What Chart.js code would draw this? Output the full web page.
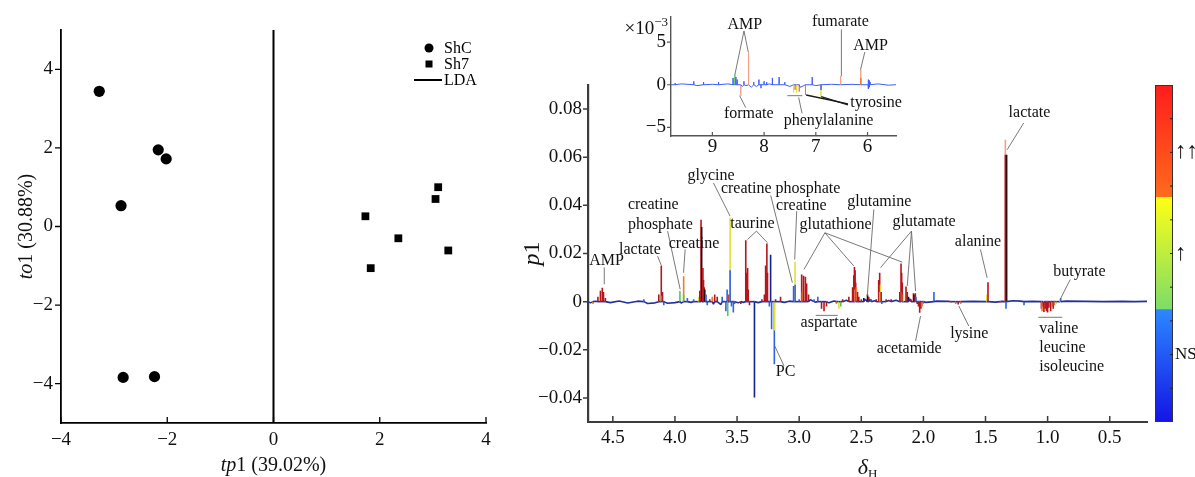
<!DOCTYPE html>
<html>
<head>
<meta charset="utf-8">
<title>OPLS-DA scores and loadings</title>
<script src="https://cdn.jsdelivr.net/npm/chart.js@4.4.1/dist/chart.umd.min.js"></script>
<style>
  html, body { margin: 0; padding: 0; background: #fff; }
  #page { position: relative; width: 1195px; height: 477px; overflow: hidden; }
  #page > div { position: absolute; top: 0; }
  canvas { display: block; }
</style>
</head>
<body>
<div id="page">
  <div style="left:0"><canvas id="scores" width="500" height="477"></canvas></div>
  <div style="left:500px"><canvas id="loadings" width="650" height="477"></canvas></div>
  <div style="left:620px"><canvas id="inset" width="285" height="160"></canvas></div>
  <div style="left:1150px"><canvas id="colourbar" width="45" height="477"></canvas></div>
</div>
<script>
const SERIF = '"Liberation Serif", "Times New Roman", serif';
Chart.defaults.font.family = SERIF;
Chart.defaults.color = '#111';

// ---- scores plot ----
const shcTp1 = [-3.28, -2.17, -2.02, -2.87, -2.83, -2.24];
const shcTo1 = [3.44, 1.95, 1.72, 0.53, -3.84, -3.82];
const sh7Tp1 = [1.73, 1.83, 2.35, 3.05, 3.10, 3.29];
const sh7To1 = [0.26, -1.06, -0.30, 0.70, 1.00, -0.61];
const ldaTp1 = [0, 0];
const ldaTo1 = [-5, 5];
const scoreTicks = [-4, -2, 0, 2, 4];

// ---- loadings plot, 0.2-4.7 ppm ----
const shiftTicks = [4.5, 4.0, 3.5, 3.0, 2.5, 2.0, 1.5, 1.0, 0.5];
const p1Ticks = [-0.04, -0.02, 0, 0.02, 0.04, 0.06, 0.08];
// [shift, p1, significance colour class]
const mainPeaks = [
  [4.660, -0.0010, 'o'], [4.620, 0.0020, 'r'], [4.600, 0.0045, 'r'], [4.585, 0.0058, 'r'],
  [4.575, 0.0040, 'r'], [4.560, 0.0015, 'r'], [4.250, 0.0010, 'b'], [4.130, 0.0030, 'r'],
  [4.110, 0.0148, 'r'], [4.110, 0.0025, 'g'], [4.100, 0.0040, 'r'], [4.090, -0.0015, 'b'],
  [3.960, 0.0044, 'g'], [3.930, 0.0106, 'o'], [3.930, 0.0030, 'g'], [3.900, 0.0015, 'b'],
  [3.850, 0.0010, 'b'], [3.810, 0.0020, 'y'], [3.800, 0.0045, 'r'], [3.790, 0.0340, 'r'],
  [3.785, 0.0310, 'k'], [3.775, 0.0140, 'r'], [3.770, 0.0090, 'r'], [3.765, 0.0060, 'r'],
  [3.760, 0.0050, 'k'], [3.750, 0.0030, 'b'], [3.740, -0.0015, 'b'], [3.720, 0.0010, 'r'],
  [3.700, 0.0020, 'o'], [3.680, 0.0030, 'r'], [3.660, 0.0020, 'r'], [3.620, 0.0020, 'b'],
  [3.590, -0.0040, 'b'], [3.580, 0.0050, 'b'], [3.575, -0.0060, 'g'], [3.565, 0.0030, 'r'],
  [3.556, 0.0348, 'y'], [3.556, 0.0130, 'b'], [3.545, -0.0020, 'b'], [3.530, -0.0045, 'b'],
  [3.520, -0.0010, 'b'], [3.470, -0.0010, 'r'], [3.430, 0.0255, 'r'], [3.425, 0.0120, 'r'],
  [3.415, 0.0140, 'r'], [3.410, 0.0050, 'r'], [3.400, -0.0015, 'r'], [3.360, -0.0398, 'B'],
  [3.300, 0.0010, 'r'], [3.280, 0.0030, 'r'], [3.270, 0.0150, 'r'], [3.260, 0.0242, 'r'],
  [3.255, 0.0120, 'r'], [3.240, -0.0020, 'b'], [3.230, 0.0195, 'B'], [3.222, -0.0115, 'b'],
  [3.200, -0.0260, 'b'], [3.200, -0.0120, 'y'], [3.190, 0.0010, 'r'], [3.150, 0.0020, 'r'],
  [3.045, 0.0065, 'b'], [3.033, 0.0166, 'y'], [3.033, 0.0070, 'b'], [3.000, 0.0010, 'b'],
  [2.980, 0.0113, 'r'], [2.975, 0.0040, 'o'], [2.965, 0.0108, 'r'], [2.950, 0.0103, 'r'],
  [2.940, 0.0075, 'r'], [2.925, 0.0030, 'r'], [2.880, 0.0010, 'b'], [2.850, 0.0020, 'b'],
  [2.820, -0.0030, 'r'], [2.800, -0.0040, 'r'], [2.780, -0.0020, 'r'], [2.700, -0.0010, 'o'],
  [2.680, -0.0030, 'y'], [2.665, -0.0020, 'g'], [2.650, 0.0010, 'r'], [2.600, 0.0020, 'r'],
  [2.570, 0.0060, 'r'], [2.560, 0.0110, 'r'], [2.555, 0.0144, 'r'], [2.550, 0.0130, 'r'],
  [2.550, 0.0050, 'p'], [2.545, 0.0080, 'r'], [2.540, 0.0060, 'o'], [2.530, 0.0040, 'r'],
  [2.520, 0.0020, 'r'], [2.500, 0.0010, 'r'], [2.480, 0.0015, 'k'], [2.450, 0.0030, 'k'],
  [2.440, 0.0020, 'r'], [2.420, 0.0010, 'b'], [2.380, 0.0010, 'r'], [2.360, 0.0090, 'r'],
  [2.352, 0.0120, 'r'], [2.352, 0.0040, 'o'], [2.345, 0.0070, 'y'], [2.340, 0.0040, 'r'],
  [2.335, -0.0010, 'b'], [2.300, 0.0010, 'r'], [2.260, 0.0010, 'r'], [2.190, 0.0040, 'r'],
  [2.180, 0.0158, 'r'], [2.175, 0.0120, 'r'], [2.175, 0.0040, 'o'], [2.170, 0.0080, 'r'],
  [2.160, 0.0030, 'y'], [2.140, 0.0063, 'r'], [2.130, 0.0040, 'r'], [2.120, 0.0020, 'k'],
  [2.100, 0.0010, 'r'], [2.080, 0.0035, 'r'], [2.075, 0.0030, 'k'], [2.065, 0.0035, 'r'],
  [2.060, 0.0020, 'b'], [2.050, -0.0010, 'r'], [2.040, -0.0020, 'r'], [2.030, -0.0046, 'r'],
  [2.020, -0.0030, 'r'], [2.010, -0.0020, 'o'], [2.000, -0.0010, 'o'], [1.915, 0.0040, 'b'],
  [1.780, -0.0005, 'o'], [1.740, -0.0010, 'o'], [1.720, -0.0012, 'r'], [1.700, -0.0010, 'o'],
  [1.490, 0.0030, 'y'], [1.480, 0.0081, 'r'], [1.380, -0.0005, 'o'], [1.340, 0.0673, 'p'],
  [1.340, 0.0610, 'r'], [1.335, -0.0030, 'b'], [1.330, 0.0610, 'k'], [1.190, -0.0015, 'b'],
  [1.050, -0.0030, 'r'], [1.045, -0.0040, 'o'], [1.035, -0.0020, 'r'], [1.030, -0.0043, 'r'],
  [1.020, -0.0030, 'r'], [1.010, -0.0040, 'r'], [1.000, -0.0045, 'r'], [0.990, -0.0025, 'r'],
  [0.975, -0.0040, 'r'], [0.965, -0.0020, 'o'], [0.955, -0.0030, 'r'], [0.945, -0.0015, 'o'],
  [0.930, -0.0010, 'y'], [0.900, 0.0010, 'y'], [0.895, 0.0015, 'b']
];
const mainNoiseShift = [4.70, 4.68, 4.64, 4.52, 4.45, 4.38, 4.30, 4.22, 4.16, 4.06,
  4.00, 3.95, 3.87, 3.69, 3.63, 3.49, 3.45, 3.33, 3.12, 3.08,
  2.91, 2.87, 2.76, 2.72, 2.62, 2.47, 2.43, 2.39, 2.28, 2.22,
  2.11, 1.98, 1.90, 1.80, 1.60, 1.50, 1.42, 1.37, 1.28, 1.22,
  1.12, 0.85, 0.70, 0.55, 0.40, 0.30, 0.20];
const mainNoiseP1 = [0, -0.0005, 0.0002, -0.0004, 0.0003, -0.0006, 0.0002, -0.0008, -0.0005, -0.0007,
  -0.0004, -0.0006, -0.0003, -0.0010, -0.0012, -0.0005, -0.0003, -0.0004, -0.0003, 0.0002,
  0.0008, -0.0002, -0.0005, 0.0003, 0.0006, 0.0010, 0.0009, 0.0004, 0.0005, 0.0006,
  0.0012, -0.0003, 0.0002, 0.0001, 0.0001, 0, -0.0002, 0.0001, 0.0004, 0.0002,
  0.0001, 0.0002, 0.0001, 0, 0.0001, 0, 0.0001];

// ---- inset, 5.45-9.8 ppm, p1 x 10^-3 ----
const insetShiftTicks = [9, 8, 7, 6];
const insetTicks = [-5, 0, 5];
const insetPeaks = [
  [9.72, 0.2, 'l'], [9.36, 0.4, 'l'], [9.17, 0.3, 'l'], [8.88, 0.3, 'l'], [8.60, 0.8, 'l'],
  [8.565, 1.2, 'g'], [8.545, 0.9, 'l'], [8.52, 0.6, 'l'], [8.45, -1.3, 'p'], [8.39, 0.4, 'l'],
  [8.30, 3.8, 'p'], [8.20, 0.3, 'l'], [8.10, 0.6, 'l'], [8.06, -0.4, 'l'], [8.00, 0.4, 'l'],
  [7.95, 0.3, 'l'], [7.84, 0.8, 'l'], [7.71, 0.9, 'l'], [7.60, 0.3, 'l'], [7.43, -0.9, 'y'],
  [7.40, -0.6, 'o'], [7.37, -0.9, 'y'], [7.32, -0.8, 'o'], [7.20, -1.2, 'o'], [7.07, 0.9, 'l'],
  [6.90, -1.4, 'y'], [6.90, -0.6, 'l'], [6.52, 1.0, 'p'], [6.13, 1.75, 'p'], [6.13, 0.8, 'o'],
  [5.99, 0.6, 'l'], [5.98, -0.5, 'l'], [5.97, 0.5, 'l'], [5.96, -0.3, 'l'], [5.95, 0.3, 'l']
];
const insetNoiseShift = [9.80, 9.60, 9.30, 9.00, 8.70, 8.42, 8.35, 8.25, 8.15, 7.90, 7.50, 7.30, 7.00, 6.70, 6.30, 5.80, 5.60, 5.45];
const insetNoiseP1 = [0, 0.1, -0.1, 0.05, 0.1, -0.2, -0.1, -0.3, -0.2, 0.1, -0.2, -0.3, -0.1, 0.05, 0.05, 0.1, -0.05, 0];

// ---- significance colour bar ----
const sigLevels = ['NS', '↑', '↑↑'];
const sigBounds = [0, 1 / 3, 2 / 3, 1];
const colourTickValues = [0.1, 0.2, 0.3, 0.4, 0.5, 0.6, 0.7, 0.8, 0.9];
const colourTickLabels = ['', 'NS', '', '', '↑', '', '', '↑↑', ''];

// label placement in data coordinates
const mainNotes = [
  { text: ['AMP'], at: [4.550, 0.0168], lines: [[4.569, 0.0142, 4.569, 0.0072]] },
  { text: ['lactate'], at: [4.282, 0.0217], lines: [[4.140, 0.0189, 4.108, 0.0148]] },
  { text: ['creatine', 'phosphate'], at: [4.379, 0.0403], align: 'left', lines: [[4.059, 0.0293, 3.958, 0.0051]] },
  { text: ['creatine'], at: [3.846, 0.0242], lines: [[3.918, 0.0217, 3.931, 0.0120]] },
  { text: ['glycine'], at: [3.709, 0.0524], lines: [[3.690, 0.0493, 3.556, 0.0355]] },
  { text: ['creatine phosphate'], at: [3.149, 0.0470], lines: [[3.229, 0.0441, 3.055, 0.0079]] },
  { text: ['creatine'], at: [2.982, 0.0399], lines: [[3.020, 0.0376, 3.036, 0.0175]] },
  { text: ['taurine'], at: [3.376, 0.0323], lines: [[3.344, 0.0293, 3.416, 0.0258], [3.344, 0.0293, 3.256, 0.0245]] },
  { text: ['glutathione'], at: [2.707, 0.0320], lines: [[2.793, 0.0286, 2.961, 0.0134], [2.793, 0.0286, 2.560, 0.0148], [2.793, 0.0286, 2.170, 0.0164]] },
  { text: ['glutamine'], at: [2.355, 0.0415], lines: [[2.399, 0.0383, 2.452, 0.0023]] },
  { text: ['glutamate'], at: [1.994, 0.0332], lines: [[2.096, 0.0293, 2.345, 0.0141], [2.096, 0.0293, 2.130, 0.0065], [2.096, 0.0293, 2.063, 0.0044]] },
  { text: ['alanine'], at: [1.561, 0.0249], lines: [[1.541, 0.0217, 1.487, 0.0099]] },
  { text: ['lactate'], at: [1.146, 0.0783], lines: [[1.193, 0.0742, 1.326, 0.0631]] },
  { text: ['butyrate'], at: [0.744, 0.0124], lines: [[0.818, 0.0092, 0.898, 0.0010]] },
  { text: ['valine', 'leucine', 'isoleucine'], at: [1.067, -0.0111], align: 'left', gap: 19, lines: [[1.075, -0.0065, 0.882, -0.0065]] },
  { text: ['lysine'], at: [1.631, -0.0133], lines: [[1.635, -0.0101, 1.715, -0.0018]] },
  { text: ['acetamide'], at: [2.114, -0.0195], lines: [[2.063, -0.0163, 2.023, -0.0060]] },
  { text: ['aspartate'], at: [2.760, -0.0087], lines: [[2.867, -0.0057, 2.690, -0.0057]] },
  { text: ['PC'], at: [3.109, -0.0292], lines: [[3.122, -0.0267, 3.197, -0.0184]] }
];
const insetNotes = [
  { text: ['AMP'], at: [8.374, 7.01], lines: [[8.389, 6.30, 8.565, 1.18], [8.389, 6.30, 8.306, 3.83]] },
  { text: ['fumarate'], at: [6.524, 7.35], lines: [[6.506, 6.48, 6.506, 0.99]] },
  { text: ['AMP'], at: [5.940, 4.59], lines: [[6.053, 3.83, 6.136, 1.75]] },
  { text: ['formate'], at: [8.296, -3.44], lines: [[8.356, -2.68, 8.473, -1.28]] },
  { text: ['tyrosine'], at: [6.335, -2.16], align: 'left', dark: true, lines: [[6.378, -2.23, 7.188, -1.20], [6.378, -2.36, 6.896, -1.40]] },
  { text: ['phenylalanine'], at: [6.754, -4.20], lines: [[7.266, -3.36, 7.332, -1.48], [7.552, -1.28, 7.260, -1.28]] }
];

const sigColours = {
  n: '#24309a', b: '#2f62e6', B: '#14228f', r: '#b5161b', o: '#f27a30', p: '#f3a089',
  y: '#e2e03a', g: '#5cc45a', k: '#2b0b0b', l: '#3f5cff'
};

const fmtMinus = v => String(v).replace('-', '\u2212');
const fmtLoading = v => (v === 0 ? '0' : v.toFixed(2).replace('-', '\u2212'));
const setTicks = list => scale => { scale.ticks = list.map(v => ({ value: v })); };

// each peak becomes a vertical stroke from the baseline
function buildTrace(peaks, noiseShift, noiseP1, base) {
  const groups = peaks.map(([s, v, c]) => ({ x: s, pts: [{ x: s, y: 0, c: base }, { x: s, y: v, c }, { x: s, y: 0, c: base }] }));
  noiseShift.forEach((s, i) => groups.push({ x: s, pts: [{ x: s, y: noiseP1[i], c: base }] }));
  groups.sort((a, b) => b.x - a.x);
  return groups.flatMap(g => g.pts);
}

function segColour(trace) {
  return ctx => {
    const a = trace[ctx.p0DataIndex], b = trace[ctx.p1DataIndex];
    return sigColours[Math.abs(b.y) >= Math.abs(a.y) ? b.c : a.c];
  };
}

function drawParts(ctx, parts, cx, cy, rotate) {
  ctx.save();
  ctx.translate(cx, cy);
  if (rotate) ctx.rotate(-Math.PI / 2);
  ctx.fillStyle = '#111';
  ctx.textBaseline = 'alphabetic';
  ctx.textAlign = 'left';
  const widths = parts.map(p => { ctx.font = p.font; return ctx.measureText(p.t).width; });
  let x = -widths.reduce((a, b) => a + b, 0) / 2;
  parts.forEach((p, i) => { ctx.font = p.font; ctx.fillText(p.t, x, p.dy || 0); x += widths[i]; });
  ctx.restore();
}

function axisTitles(list) {
  return {
    id: 'axisTitles',
    afterDraw(chart) {
      const a = chart.chartArea;
      list.forEach(t => drawParts(chart.ctx, t.parts, t.x(a), t.y(a), t.rotate));
    }
  };
}

function tickMarks(opt) {
  return {
    id: 'tickMarks',
    afterDraw(chart) {
      const { ctx, chartArea: a, scales } = chart;
      ctx.save();
      ctx.strokeStyle = opt.colour;
      ctx.lineWidth = opt.width;
      ctx.beginPath();
      if (opt.xLen) {
        scales.x.ticks.forEach(t => {
          const px = scales.x.getPixelForValue(t.value);
          ctx.moveTo(px, a.bottom); ctx.lineTo(px, a.bottom - opt.xLen);
        });
      }
      if (opt.yLen) {
        scales.y.ticks.forEach(t => {
          const py = scales.y.getPixelForValue(t.value);
          if (opt.insideRight) { ctx.moveTo(a.right - opt.yLen, py); ctx.lineTo(a.right, py); }
          else { ctx.moveTo(a.left - opt.yLen, py); ctx.lineTo(a.left, py); }
        });
      }
      ctx.stroke();
      ctx.restore();
    }
  };
}

function notes(items, font) {
  return {
    id: 'notes',
    afterDatasetsDraw(chart) {
      const { ctx, scales: { x, y } } = chart;
      ctx.save();
      ctx.font = font;
      ctx.fillStyle = '#111';
      ctx.textBaseline = 'middle';
      items.forEach(n => {
        ctx.strokeStyle = n.dark ? '#1a1a1a' : '#6a6a6a';
        ctx.lineWidth = n.dark ? 1.3 : 0.9;
        n.lines.forEach(([x1, y1, x2, y2]) => {
          ctx.beginPath();
          ctx.moveTo(x.getPixelForValue(x1), y.getPixelForValue(y1));
          ctx.lineTo(x.getPixelForValue(x2), y.getPixelForValue(y2));
          ctx.stroke();
        });
        ctx.textAlign = n.align || 'center';
        const px = x.getPixelForValue(n.at[0]), py = y.getPixelForValue(n.at[1]);
        n.text.forEach((t, i) => ctx.fillText(t, px, py + i * (n.gap || 20)));
      });
      ctx.restore();
    }
  };
}

const scoreLegend = {
  id: 'scoreLegend',
  afterDraw(chart) {
    const { ctx, chartArea: a } = chart;
    const mx = a.right - 57, tx = a.right - 42;
    ctx.save();
    ctx.fillStyle = '#000';
    ctx.strokeStyle = '#000';
    ctx.font = '16px ' + SERIF;
    ctx.textBaseline = 'middle';
    ctx.textAlign = 'left';
    chart.data.datasets.forEach((ds, i) => {
      const y = a.top + 18 + i * 16;
      if (ds.showLine) {
        ctx.lineWidth = 2;
        ctx.beginPath(); ctx.moveTo(mx - 15, y); ctx.lineTo(mx + 13, y); ctx.stroke();
      } else if (ds.pointStyle === 'rect') {
        ctx.fillRect(mx - 3.5, y - 3.5, 7, 7);
      } else {
        ctx.beginPath(); ctx.arc(mx, y, 4.5, 0, Math.PI * 2); ctx.fill();
      }
      ctx.fillText(ds.label, tx, y + 1);
    });
    ctx.restore();
  }
};

const common = {
  responsive: false,
  animation: false,
  devicePixelRatio: 1,
  events: [],
  plugins: { legend: { display: false }, tooltip: { enabled: false } }
};

// ---------- scores ----------
new Chart(document.getElementById('scores'), {
  type: 'scatter',
  data: {
    datasets: [
      { label: 'ShC', data: shcTp1.map((v, i) => ({ x: v, y: shcTo1[i] })), pointStyle: 'circle', pointRadius: 5.6, backgroundColor: '#000', borderWidth: 0 },
      { label: 'Sh7', data: sh7Tp1.map((v, i) => ({ x: v, y: sh7To1[i] })), pointStyle: 'rect', pointRadius: 5.5, backgroundColor: '#000', borderWidth: 0 },
      { label: 'LDA', data: ldaTp1.map((v, i) => ({ x: v, y: ldaTo1[i] })), showLine: true, pointRadius: 0, borderColor: '#000', borderWidth: 2 }
    ]
  },
  options: {
    ...common,
    layout: { padding: { top: 30, right: 14, left: 0, bottom: 0 } },
    scales: {
      x: {
        type: 'linear', min: -4, max: 4,
        afterBuildTicks: setTicks(scoreTicks),
        ticks: { callback: fmtMinus, padding: 6, font: { size: 19 }, color: '#111', maxRotation: 0, autoSkip: false },
        grid: { display: false, drawTicks: false },
        border: { display: true, color: '#000', width: 1.8 },
        afterFit: s => { s.height = 54; }
      },
      y: {
        type: 'linear', min: -5, max: 5,
        afterBuildTicks: setTicks(scoreTicks),
        ticks: { callback: fmtMinus, padding: 8, font: { size: 19 }, color: '#111', autoSkip: false },
        grid: { display: false, drawTicks: false },
        border: { display: true, color: '#000', width: 1.8 },
        afterFit: s => { s.width = 61; }
      }
    }
  },
  plugins: [
    tickMarks({ xLen: 6, yLen: 6, colour: '#000', width: 1.3 }),
    scoreLegend,
    axisTitles([
      { parts: [{ t: 'tp', font: 'italic 20px ' + SERIF }, { t: '1 (39.02%)', font: '20px ' + SERIF }], x: a => (a.left + a.right) / 2, y: a => a.bottom + 48 },
      { parts: [{ t: 'to', font: 'italic 20px ' + SERIF }, { t: '1 (30.88%)', font: '20px ' + SERIF }], x: a => a.left - 29, y: a => (a.top + a.bottom) / 2, rotate: true }
    ])
  ]
});

// ---------- loadings ----------
const mainTrace = buildTrace(mainPeaks, mainNoiseShift, mainNoiseP1, 'n');
new Chart(document.getElementById('loadings'), {
  type: 'line',
  data: {
    datasets: [{
      label: 'p1',
      data: mainTrace.map(p => ({ x: p.x, y: p.y })),
      borderWidth: 1.6,
      borderJoinStyle: 'bevel',
      pointRadius: 0,
      tension: 0,
      segment: { borderColor: segColour(mainTrace) }
    }]
  },
  options: {
    ...common,
    layout: { padding: { top: 85, right: 3, left: 0, bottom: 0 } },
    scales: {
      x: {
        type: 'linear', reverse: true, min: 0.2, max: 4.7,
        afterBuildTicks: setTicks(shiftTicks),
        ticks: { callback: v => v.toFixed(1), padding: 5, font: { size: 19 }, color: '#111', maxRotation: 0, autoSkip: false },
        grid: { display: false, drawTicks: false },
        border: { display: true, color: '#3c3c3c', width: 2 },
        afterFit: s => { s.height = 55; }
      },
      y: {
        type: 'linear', min: -0.05, max: 0.09,
        afterBuildTicks: setTicks(p1Ticks),
        ticks: { callback: fmtLoading, padding: 6, font: { size: 19 }, color: '#111', autoSkip: false },
        grid: { display: false, drawTicks: false },
        border: { display: true, color: '#3c3c3c', width: 2.2 },
        afterFit: s => { s.width = 88; }
      }
    }
  },
  plugins: [
    tickMarks({ xLen: 6, yLen: 5, colour: '#3c3c3c', width: 1.5 }),
    notes(mainNotes, '16px ' + SERIF),
    axisTitles([
      { parts: [{ t: 'δ', font: 'italic 22px ' + SERIF }, { t: 'H', font: '13px ' + SERIF, dy: 4 }], x: a => (a.left + a.right) / 2, y: a => a.bottom + 52 },
      { parts: [{ t: 'p', font: 'italic 24px ' + SERIF }, { t: '1', font: '24px ' + SERIF }], x: a => a.left - 49, y: a => (a.top + a.bottom) / 2, rotate: true }
    ])
  ]
});

// ---------- inset ----------
const insetTrace = buildTrace(insetPeaks, insetNoiseShift, insetNoiseP1, 'l');
const exponentLabel = {
  id: 'exponentLabel',
  afterDraw(chart) {
    const { ctx, chartArea: a } = chart;
    ctx.save();
    ctx.fillStyle = '#111';
    ctx.textBaseline = 'alphabetic';
    ctx.textAlign = 'left';
    ctx.font = '13px ' + SERIF;
    const w2 = ctx.measureText('\u22123').width;
    ctx.font = '19px ' + SERIF;
    const w1 = ctx.measureText('×10').width;
    const xr = a.left - 3;
    ctx.fillText('×10', xr - w2 - w1, a.top + 18);
    ctx.font = '13px ' + SERIF;
    ctx.fillText('\u22123', xr - w2, a.top + 10);
    ctx.restore();
  }
};
new Chart(document.getElementById('inset'), {
  type: 'line',
  data: {
    datasets: [{
      label: 'p1 aromatic',
      data: insetTrace.map(p => ({ x: p.x, y: p.y })),
      borderWidth: 1,
      borderJoinStyle: 'bevel',
      pointRadius: 0,
      tension: 0,
      segment: { borderColor: segColour(insetTrace) }
    }]
  },
  options: {
    ...common,
    layout: { padding: { top: 13, right: 9, left: 0, bottom: 0 } },
    scales: {
      x: {
        type: 'linear', reverse: true, min: 5.45, max: 9.8,
        afterBuildTicks: setTicks(insetShiftTicks),
        ticks: { callback: v => String(v), padding: 0, font: { size: 19 }, color: '#111', maxRotation: 0, autoSkip: false },
        grid: { display: false, drawTicks: false },
        border: { display: true, color: '#555', width: 1.4 },
        afterFit: s => { s.height = 24; }
      },
      y: {
        type: 'linear', min: -6, max: 8,
        afterBuildTicks: setTicks(insetTicks),
        ticks: { callback: fmtMinus, padding: 5, font: { size: 19 }, color: '#111', autoSkip: false },
        grid: { display: false, drawTicks: false },
        border: { display: true, color: '#555', width: 1.4 },
        afterFit: s => { s.width = 51; }
      }
    }
  },
  plugins: [
    tickMarks({ xLen: 4, yLen: 4, colour: '#555', width: 1.2 }),
    notes(insetNotes, '16px ' + SERIF),
    exponentLabel
  ]
});

// ---------- significance colour bar ----------
const barStops = [['#1414e4', '#2c88ff'], ['#7ddc68', '#ffff14'], ['#ff6b1c', '#ff1c1c']];
const barFrame = {
  id: 'barFrame',
  afterDraw(chart) {
    const { ctx, chartArea: a } = chart;
    ctx.save();
    ctx.strokeStyle = '#333';
    ctx.lineWidth = 1;
    ctx.strokeRect(a.left + 0.5, a.top + 0.5, a.right - a.left - 1, a.bottom - a.top - 1);
    ctx.restore();
  }
};
function levelFill(i) {
  return c => {
    const chart = c.chart, ys = chart.scales.y;
    const y0 = ys ? ys.getPixelForValue(sigBounds[i]) : NaN;
    const y1 = ys ? ys.getPixelForValue(sigBounds[i + 1]) : NaN;
    if (!isFinite(y0) || !isFinite(y1) || y0 === y1) return barStops[i][1];
    const g = chart.ctx.createLinearGradient(0, y0, 0, y1);
    g.addColorStop(0, barStops[i][0]);
    g.addColorStop(1, barStops[i][1]);
    return g;
  };
}
new Chart(document.getElementById('colourbar'), {
  type: 'bar',
  data: {
    labels: [''],
    datasets: sigLevels.map((lvl, i) => ({
      label: lvl,
      data: [[sigBounds[i], sigBounds[i + 1]]],
      grouped: false,
      barPercentage: 1,
      categoryPercentage: 1,
      borderWidth: 0,
      backgroundColor: levelFill(i)
    }))
  },
  options: {
    ...common,
    layout: { padding: { top: 85, right: 0, left: 5, bottom: 55 } },
    scales: {
      x: { display: false },
      y: {
        position: 'right', min: 0, max: 1,
        afterBuildTicks: setTicks(colourTickValues),
        ticks: {
          callback: (v, i) => colourTickLabels[i],
          padding: 2,
          font: c => ({ size: colourTickLabels[c.index] === 'NS' ? 17 : 23 }),
          color: '#111',
          autoSkip: false
        },
        grid: { display: false, drawTicks: false },
        border: { display: false },
        afterFit: s => { s.width = 22; }
      }
    }
  },
  plugins: [barFrame, tickMarks({ yLen: 3, insideRight: true, colour: '#222', width: 1 })]
});
</script>
</body>
</html>
